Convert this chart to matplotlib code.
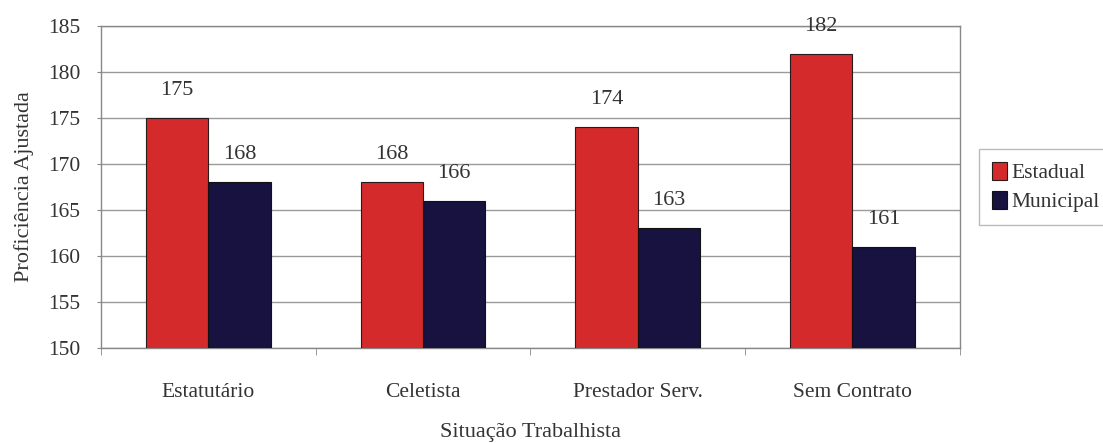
import matplotlib
matplotlib.use("Agg")
import matplotlib.pyplot as plt
import numpy as np

categories = ["Estatutário", "Celetista", "Prestador Serv.", "Sem Contrato"]
estadual = [175, 168, 174, 182]
municipal = [168, 166, 163, 161]
yticks = [150, 155, 160, 165, 170, 175, 180, 185]

plt.rcParams["font.family"] = ["Liberation Serif", "DejaVu Serif"]

fig = plt.figure(figsize=(11.03, 4.43), dpi=100)
ax = fig.add_axes([0.0916, 0.2144, 0.7784, 0.7269])

x = np.arange(len(categories))
w = 0.29
red = "#d42a2c"
navy = "#17123f"
b1 = ax.bar(x - w / 2, estadual, w, bottom=0, color=red, edgecolor="#2a1a1a",
            linewidth=0.8, label="Estadual", zorder=3)
b2 = ax.bar(x + w / 2, municipal, w, bottom=0, color=navy, edgecolor="#111",
            linewidth=0.8, label="Municipal", zorder=3)

for bars, vals in ((b1, estadual), (b2, municipal)):
    for r, v in zip(bars, vals):
        ax.annotate(f"{v}", (r.get_x() + r.get_width() / 2, v),
                    xytext=(0, 13), textcoords="offset points",
                    ha="center", va="bottom", fontsize=16, color="#333")

ax.set_ylim(150, 185)
ax.set_xlim(-0.5, len(categories) - 0.5)
ax.set_yticks(yticks)
ax.set_yticklabels([str(t) for t in yticks], fontsize=15.5, color="#333")
ax.set_xticks(x)
ax.set_xticklabels(categories, fontsize=15.5, color="#333")
ax.tick_params(axis="x", length=0, pad=25)
ax.tick_params(axis="y", length=3, color="#888", pad=12)
ax.set_xticks(np.arange(len(categories) + 1) - 0.5, minor=True)
ax.tick_params(axis="x", which="minor", length=5, color="#888")

ax.grid(axis="y", color="#9a9a9a", linewidth=1.0, zorder=0)
for s in ax.spines.values():
    s.set_color("#888")
    s.set_linewidth(1.0)

ax.set_ylabel("Proficiência Ajustada", fontsize=16, color="#333", labelpad=10)
ax.set_xlabel("Situação Trabalhista", fontsize=16, color="#333", labelpad=15)

leg = ax.legend(loc="center left", bbox_to_anchor=(1.023, 0.5), fontsize=15.5,
                frameon=True, fancybox=False, handlelength=0.7, handleheight=0.9,
                handletextpad=0.2, borderpad=0.6, labelspacing=0.35,
                borderaxespad=0, edgecolor="#aaa")
for t in leg.get_texts():
    t.set_color("#333")

fig.savefig("out.png", dpi=100)
